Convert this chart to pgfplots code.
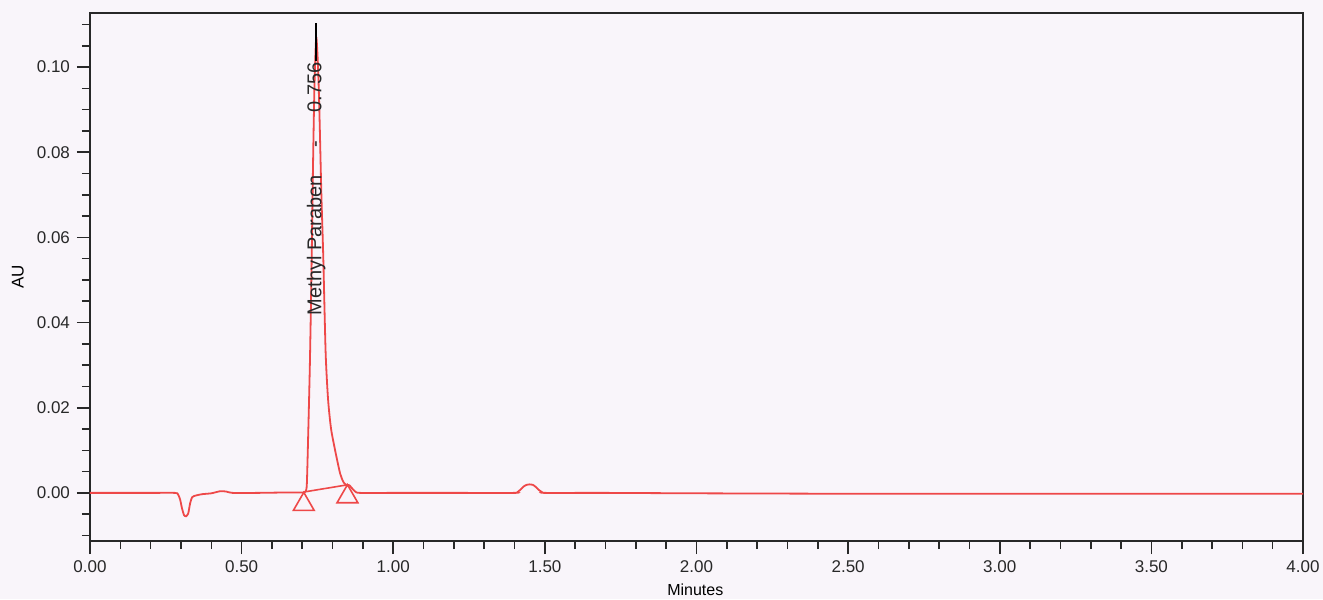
\documentclass[border=0pt]{standalone}
\usepackage{pgfplots}
\pgfplotsset{compat=1.18}
\usepackage{fontspec}
\setmainfont{Liberation Sans}
\usetikzlibrary{backgrounds}
\definecolor{sig}{RGB}{238,72,72}
\definecolor{bg}{RGB}{249,245,250}
\definecolor{ax}{RGB}{40,40,40}
\begin{document}
\begin{tikzpicture}
\begin{axis}[
  name=ax,
  scale only axis,
  width=606.5pt, height=264pt,
  xmin=0, xmax=4, ymin=-0.0113, ymax=0.1127,
  axis line style={ax, line width=1pt},
  tick style={ax, line width=0.8pt},
  tick align=outside,
  xtick pos=bottom, ytick pos=left,
  major tick length=6.5pt, minor tick length=4pt,
  xtick={0,0.5,...,4.0}, minor x tick num=4,
  ytick={0,0.02,0.04,0.06,0.08,0.10}, minor y tick num=3,
  extra y ticks={-0.005,-0.01,0.105,0.11},
  extra y tick labels={},
  extra y tick style={major tick length=4pt},
  /pgf/number format/assume math mode=true,
  xticklabel style={/pgf/number format/.cd, fixed, fixed zerofill, precision=2},
  yticklabel style={/pgf/number format/.cd, fixed, fixed zerofill, precision=2},
  scaled y ticks=false, scaled x ticks=false,
  ticklabel style={font=\fontsize{8.5}{10}\selectfont, text=ax},
  xlabel={Minutes}, ylabel={AU},
  xlabel style={font=\fontsize{8}{10}\selectfont, at={(axis description cs:0.499,-0.0928)}, anchor=center},
  ylabel style={font=\fontsize{8.5}{10}\selectfont, at={(axis description cs:-0.0594,0.5)}, anchor=center, rotate=0},
  clip=false,
]
% chromatogram trace
\addplot[sig, line width=0.9pt, smooth, tension=0.4] coordinates {
(0.000,0) (0.100,0) (0.200,0) (0.280,0) (0.290,-0.0003) (0.297,-0.0015)
(0.303,-0.0035) (0.310,-0.0052) (0.317,-0.0055) (0.324,-0.0048)
(0.330,-0.0025) (0.337,-0.0010) (0.350,-0.0006) (0.370,-0.0003)
(0.400,-0.0001) (0.430,0.0004) (0.450,0.0003) (0.470,0.0) (0.550,0.0)
(0.650,0.0001) (0.700,0.0001) (0.710,0.0003) (0.715,0.002) (0.720,0.015)
(0.725,0.030) (0.730,0.050) (0.735,0.075) (0.740,0.095) (0.746,0.107)
(0.752,0.100) (0.757,0.088) (0.763,0.070) (0.769,0.056) (0.777,0.033)
(0.785,0.022) (0.795,0.015) (0.810,0.0094) (0.825,0.0045) (0.836,0.0025)
(0.845,0.0019) (0.855,0.0018) (0.865,0.0010) (0.875,0.0003) (0.890,0.0)
(1.000,0.0) (1.200,0.0) (1.400,0.0) (1.410,0.0002) (1.420,0.0008)
(1.430,0.0015) (1.440,0.0019) (1.450,0.0020) (1.460,0.0019) (1.470,0.0014)
(1.480,0.0007) (1.490,0.0002) (1.500,0.0) (1.700,0.0) (2.000,-0.0001)
(2.500,-0.0002) (3.000,-0.0002) (3.500,-0.0002) (4.000,-0.0002)
};
% integration baseline
\addplot[sig, line width=0.8pt] coordinates {(0.705,0.0002) (0.849,0.0019)};
% peak start / end markers
\addplot[sig, only marks, mark=triangle, mark size=6pt, mark options={line width=0.8pt}] coordinates {(0.705,-0.0027) (0.849,-0.0009)};
% peak label tick
\addplot[black, line width=0.8pt] coordinates {(0.746,0.1015) (0.746,0.1103)};
\node[rotate=90, font=\fontsize{10}{12}\selectfont, text=ax, inner sep=0pt] at (axis cs:0.746,0.0714) {Methyl Paraben\hspace{14pt}-\hspace{14pt}0.756};
\end{axis}
\pgfresetboundingbox
\path[use as bounding box] ([xshift=-45pt,yshift=-29pt]ax.south west) rectangle ([xshift=10pt,yshift=6.5pt]ax.north east);
\begin{scope}[on background layer]
\fill[bg] ([xshift=-45pt,yshift=-29pt]ax.south west) rectangle ([xshift=10pt,yshift=6.5pt]ax.north east);
\end{scope}
\end{tikzpicture}
\end{document}
